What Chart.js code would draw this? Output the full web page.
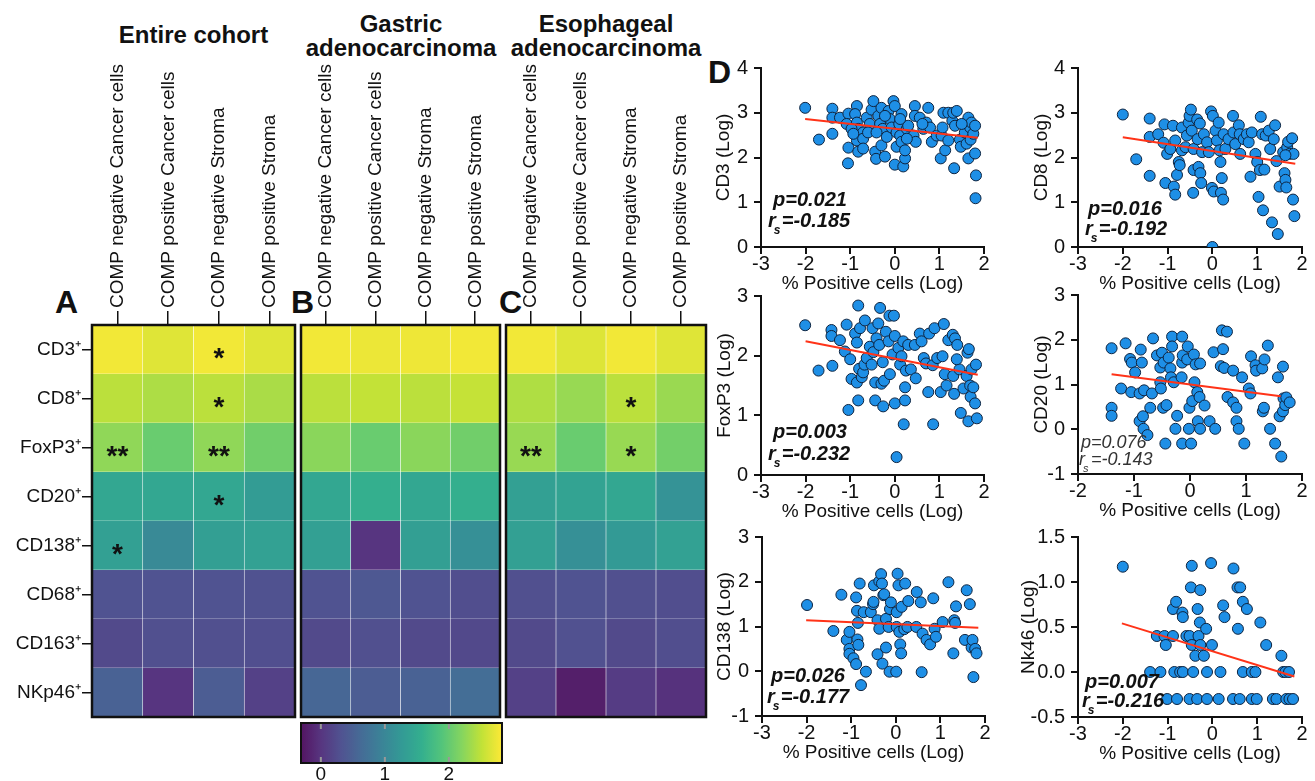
<!DOCTYPE html>
<html>
<head>
<meta charset="utf-8">
<script src="https://cdn.jsdelivr.net/npm/chart.js@4"></script>
<style>
  body { margin: 0; width: 1315px; height: 781px; background: #fff; position: relative; overflow: hidden;
         font-family: 'Liberation Sans', Arial, sans-serif; color: #111; }
  canvas { position: absolute; }
  .lbl { position: absolute; font-weight: bold; white-space: nowrap; text-align: center; }
</style>
</head>
<body>
<div class="lbl" style="left:92px;width:203px;top:23px;font-size:24px;line-height:24px">Entire cohort</div>
<div class="lbl" style="left:301px;width:200px;top:12px;font-size:24px;line-height:24px">Gastric<br>adenocarcinoma</div>
<div class="lbl" style="left:506px;width:200px;top:12px;font-size:24px;line-height:24px">Esophageal<br>adenocarcinoma</div>
<div class="lbl" style="left:55px;top:286px;font-size:32px;line-height:32px">A</div>
<div class="lbl" style="left:291px;top:286px;font-size:32px;line-height:32px">B</div>
<div class="lbl" style="left:499px;top:286px;font-size:32px;line-height:32px">C</div>
<div class="lbl" style="left:708px;top:56px;font-size:32px;line-height:32px">D</div>

<canvas id="heatA" width="300" height="690" style="left:0;top:40px"></canvas>
<canvas id="heatB" width="210" height="690" style="left:296px;top:40px"></canvas>
<canvas id="heatC" width="210" height="690" style="left:501px;top:40px"></canvas>
<canvas id="cbar" width="215" height="70" style="left:295px;top:715px"></canvas>

<canvas id="sc1" width="300" height="250" style="left:700px;top:50px"></canvas>
<canvas id="sc2" width="301" height="250" style="left:1017px;top:50px"></canvas>
<canvas id="sc3" width="300" height="250" style="left:700px;top:278px"></canvas>
<canvas id="sc4" width="301" height="250" style="left:1017px;top:277px"></canvas>
<canvas id="sc5" width="300" height="250" style="left:701px;top:519px"></canvas>
<canvas id="sc6" width="301" height="251" style="left:1017px;top:519px"></canvas>

<script>
// ---- heatmap data (log values, same scale as the colour bar) ----
const columns = ['COMP negative Cancer cells', 'COMP positive Cancer cells', 'COMP negative Stroma', 'COMP positive Stroma'];
const markers = ['CD3⁺', 'CD8⁺', 'FoxP3⁺', 'CD20⁺', 'CD138⁺', 'CD68⁺', 'CD163⁺', 'NKp46⁺'];

const entireCohort = [
  [2.77, 2.67, 2.77, 2.67],
  [2.48, 2.41, 2.48, 2.39],
  [2.26, 2.03, 2.26, 2.08],
  [1.45, 1.45, 1.45, 1.29],
  [1.35, 1.04, 1.34, 1.36],
  [0.32, 0.32, 0.32, 0.31],
  [0.22, 0.29, 0.29, 0.28],
  [0.51, 0.00, 0.44, 0.13]
];
const gastric = [
  [2.77, 2.74, 2.75, 2.77],
  [2.48, 2.52, 2.48, 2.53],
  [2.23, 2.03, 2.23, 2.08],
  [1.45, 1.57, 1.45, 1.57],
  [1.35, 0.00, 1.34, 1.13],
  [0.32, 0.38, 0.32, 0.26],
  [0.22, 0.29, 0.22, 0.21],
  [0.57, 0.44, 0.51, 0.66]
];
const esophageal = [
  [2.77, 2.66, 2.77, 2.67],
  [2.42, 2.30, 2.48, 2.31],
  [2.30, 2.03, 2.30, 2.09],
  [1.35, 1.39, 1.46, 1.17],
  [1.35, 1.12, 1.26, 1.37],
  [0.29, 0.32, 0.29, 0.27],
  [0.22, 0.30, 0.22, 0.26],
  [0.13, -0.22, 0.07, -0.03]
];
const starsEntire = [
  ['', '', '*', ''], ['', '', '*', ''], ['**', '', '**', ''], ['', '', '*', ''],
  ['*', '', '', ''], ['', '', '', ''], ['', '', '', ''], ['', '', '', '']
];
const starsGastric = markers.map(() => ['', '', '', '']);
const starsEsophageal = [
  ['', '', '', ''], ['', '', '*', ''], ['**', '', '*', ''], ['', '', '', ''],
  ['', '', '', ''], ['', '', '', ''], ['', '', '', ''], ['', '', '', '']
];
const colorTicks = [0, 1, 2];
const colorMin = -0.31, colorMax = 2.83;

// ---- scatter data [% positive cells (log), marker (log)] ----
const cd3Points = [[-2.01,3.11],[-1.70,2.40],[-1.40,3.09],[-1.40,2.89],[-1.40,2.53],[-1.23,2.89],[-1.04,2.98],[-1.08,2.75],[-1.04,2.22],[-1.05,1.87],[-0.85,3.15],[-0.89,2.97],[-0.85,2.78],[-0.82,2.64],[-0.78,2.49],[-0.85,2.38],[-0.82,2.13],[-0.71,2.56],[-0.71,2.42],[-0.63,2.89],[-0.56,2.75],[-0.52,3.07],[-0.48,3.26],[-0.44,2.13],[-0.42,1.97],[-0.37,2.93],[-0.33,2.75],[-0.30,3.11],[-0.30,2.27],[-0.27,2.64],[-0.22,2.02],[-0.18,2.46],[-0.14,3.04],[-0.11,2.86],[-0.07,2.67],[-0.03,3.26],[0.00,3.15],[0.00,1.84],[0.04,2.56],[0.04,2.24],[0.10,2.75],[0.12,2.49],[0.15,2.97],[0.15,2.35],[0.19,1.80],[0.23,1.98],[0.23,2.16],[0.27,2.64],[0.30,2.71],[0.42,2.49],[0.45,3.15],[0.45,2.93],[0.47,2.35],[0.56,2.89],[0.64,2.64],[0.71,2.78],[0.75,3.11],[0.79,2.67],[0.83,2.35],[0.94,2.49],[1.03,1.98],[1.05,2.49],[1.07,2.67],[1.09,3.00],[1.13,2.16],[1.20,2.38],[1.20,3.00],[1.29,2.82],[1.31,3.00],[1.33,1.76],[1.35,2.71],[1.39,3.04],[1.46,2.40],[1.48,2.24],[1.57,2.56],[1.61,2.31],[1.65,2.89],[1.65,1.98],[1.69,2.67],[1.70,2.40],[1.72,2.78],[1.76,2.53],[1.80,2.71],[1.80,2.09],[1.82,1.60],[1.81,1.09],[-0.97,2.64],[-0.93,2.53],[-0.71,2.20],[-0.60,2.56],[-0.41,2.56],[-0.22,2.93],[0.12,2.86],[0.27,2.42],[0.62,2.75],[1.50,2.75]];
const cd8Points = [[-2.00,2.96],[-1.70,1.96],[-1.40,2.87],[-1.40,2.46],[-1.40,1.59],[-1.21,2.52],[-1.07,2.74],[-1.09,2.33],[-1.05,1.43],[-1.01,2.08],[-0.94,2.19],[-0.88,2.71],[-0.86,1.35],[-0.83,1.17],[-0.83,2.38],[-0.79,1.61],[-0.75,1.90],[-0.73,1.83],[-0.68,2.67],[-0.68,2.16],[-0.60,2.23],[-0.57,2.49],[-0.53,2.78],[-0.51,2.93],[-0.48,3.07],[-0.46,2.60],[-0.43,1.21],[-0.42,2.19],[-0.42,1.72],[-0.34,2.85],[-0.33,2.41],[-0.31,1.79],[-0.28,2.76],[-0.27,1.65],[-0.25,1.43],[-0.23,2.12],[-0.19,2.52],[-0.12,2.34],[-0.08,2.12],[-0.03,3.03],[-0.01,1.32],[0.01,2.93],[0.03,1.24],[0.07,2.60],[0.10,2.38],[0.14,2.78],[0.16,2.16],[0.18,1.90],[0.19,1.21],[0.21,1.54],[0.24,1.06],[0.25,2.52],[0.29,2.19],[0.36,2.41],[0.46,2.93],[0.47,2.56],[0.51,2.30],[0.59,2.72],[0.61,2.52],[0.62,2.08],[0.70,2.41],[0.77,2.52],[0.81,2.34],[0.85,1.57],[0.88,2.56],[0.96,2.08],[1.00,1.90],[1.03,1.12],[1.06,1.72],[1.08,2.91],[1.11,2.52],[1.13,0.82],[1.16,1.73],[1.19,2.49],[1.26,2.60],[1.29,2.19],[1.33,0.55],[1.37,2.41],[1.40,2.72],[1.43,1.92],[1.46,0.29],[1.50,1.35],[1.58,2.12],[1.61,1.65],[1.63,1.50],[1.65,1.33],[1.67,2.23],[1.69,2.35],[1.72,2.08],[1.78,2.43],[1.80,1.06],[1.81,2.08],[1.83,0.69],[0.00,0.00],[1.63,2.05]];
const foxp3Points = [[-2.01,2.51],[-1.71,1.75],[-1.42,2.43],[-1.42,2.33],[-1.40,1.83],[-1.23,2.26],[-1.08,2.52],[-1.12,2.07],[-1.04,1.09],[-1.00,1.94],[-0.97,1.61],[-0.89,2.37],[-0.85,2.22],[-0.85,1.55],[-0.82,2.84],[-0.82,1.25],[-0.80,1.78],[-0.78,2.46],[-0.74,1.64],[-0.71,1.72],[-0.68,1.85],[-0.67,2.59],[-0.63,1.96],[-0.56,2.15],[-0.52,1.85],[-0.50,2.46],[-0.48,2.06],[-0.44,1.55],[-0.44,1.25],[-0.41,2.29],[-0.37,2.54],[-0.35,2.18],[-0.33,2.80],[-0.30,1.53],[-0.27,1.89],[-0.26,1.15],[-0.24,1.58],[-0.20,2.40],[-0.14,2.24],[-0.12,2.67],[-0.11,1.69],[-0.05,2.02],[-0.02,2.67],[0.00,2.33],[0.00,1.20],[0.04,0.30],[0.08,2.13],[0.12,1.85],[0.15,1.99],[0.19,2.24],[0.20,0.85],[0.23,1.47],[0.23,1.25],[0.25,1.75],[0.30,2.18],[0.36,1.77],[0.45,2.18],[0.47,1.62],[0.56,2.37],[0.60,2.24],[0.65,1.96],[0.70,1.87],[0.75,1.39],[0.77,2.37],[0.85,1.84],[0.86,0.85],[0.89,2.46],[0.95,1.96],[1.03,1.39],[1.07,1.99],[1.10,2.53],[1.12,1.69],[1.16,1.50],[1.20,2.26],[1.30,2.35],[1.31,1.66],[1.33,1.36],[1.35,2.29],[1.40,2.18],[1.45,1.77],[1.48,1.04],[1.54,1.45],[1.61,1.66],[1.63,2.05],[1.65,0.90],[1.66,2.11],[1.69,1.50],[1.70,1.31],[1.72,1.77],[1.76,1.47],[1.80,1.20],[1.82,1.85],[1.84,0.95],[1.39,1.94]];
const cd20Points = [[-1.40,1.81],[-1.40,0.48],[-1.40,0.30],[-1.23,0.91],[-1.15,1.92],[-1.07,1.57],[-1.05,0.83],[-1.04,1.49],[-0.98,1.27],[-0.90,0.80],[-0.90,0.18],[-0.88,1.78],[-0.86,1.49],[-0.84,0.29],[-0.83,0.01],[-0.82,0.87],[-0.76,-0.13],[-0.71,0.48],[-0.68,0.80],[-0.66,2.03],[-0.59,1.65],[-0.53,1.38],[-0.53,1.05],[-0.52,0.91],[-0.50,1.71],[-0.48,0.48],[-0.47,1.49],[-0.44,-0.32],[-0.42,0.54],[-0.38,1.60],[-0.35,1.36],[-0.34,1.16],[-0.32,2.07],[-0.32,1.85],[-0.29,1.05],[-0.23,0.30],[-0.26,0.01],[-0.15,1.16],[-0.14,1.49],[-0.14,2.07],[-0.14,-0.32],[-0.13,1.65],[-0.05,1.56],[-0.04,1.85],[-0.02,0.01],[-0.01,0.48],[0.02,-0.32],[0.04,0.63],[0.07,1.67],[0.08,1.05],[0.10,1.45],[0.13,0.83],[0.14,0.18],[0.17,0.72],[0.18,0.01],[0.18,1.47],[0.26,0.53],[0.35,0.18],[0.45,0.01],[0.42,1.72],[0.57,2.21],[0.59,1.79],[0.66,2.18],[0.55,1.41],[0.61,1.37],[0.67,0.72],[0.77,1.31],[0.77,0.60],[0.83,0.48],[0.83,0.18],[0.87,0.01],[0.93,1.16],[0.97,-0.32],[1.05,0.91],[1.08,0.80],[1.09,1.63],[1.17,1.43],[1.18,1.31],[1.29,1.36],[1.30,0.40],[1.32,0.48],[1.33,1.56],[1.39,1.87],[1.43,0.01],[1.52,-0.32],[1.57,1.16],[1.60,0.29],[1.63,-0.61],[1.66,1.40],[1.67,0.69],[1.66,0.40],[1.70,0.54],[1.72,0.71],[1.78,0.60]];
const cd138Points = [[-1.99,1.48],[-1.40,0.90],[-1.22,1.71],[-1.10,0.70],[-1.04,0.88],[-1.04,0.50],[-1.04,0.39],[-0.95,0.29],[-0.89,0.16],[-0.89,1.65],[-0.87,1.35],[-0.86,0.71],[-0.84,0.59],[-0.81,1.96],[-0.85,1.08],[-0.78,-0.31],[-0.72,1.32],[-0.67,-0.01],[-0.56,1.32],[-0.51,1.50],[-0.50,1.55],[-0.49,1.92],[-0.41,1.14],[-0.41,0.38],[-0.37,2.01],[-0.37,0.95],[-0.33,2.17],[-0.31,1.96],[-0.30,0.17],[-0.28,1.70],[-0.26,1.72],[-0.22,0.53],[-0.22,1.17],[-0.16,0.99],[-0.14,-0.01],[-0.13,1.39],[-0.11,1.54],[0.01,-0.01],[0.02,0.99],[0.02,1.32],[0.04,2.18],[0.06,1.92],[0.08,0.88],[0.10,0.60],[0.12,0.40],[0.13,1.44],[0.19,0.94],[0.21,1.96],[0.28,1.57],[0.26,0.99],[0.46,0.99],[0.47,1.77],[0.56,1.54],[0.58,-0.02],[0.60,0.84],[0.69,0.70],[0.77,0.60],[0.84,1.63],[0.87,0.95],[0.90,0.77],[1.05,1.10],[1.18,1.99],[1.29,0.40],[1.31,1.14],[1.33,1.08],[1.35,1.45],[1.55,0.70],[1.59,1.81],[1.66,1.50],[1.70,0.53],[1.72,0.70],[1.74,-0.13],[1.78,0.50],[1.81,0.40]];
const nk46Points = [[-2.00,1.17],[-1.39,0.00],[-1.24,0.40],[-1.16,0.00],[-1.07,0.40],[-1.04,0.30],[-1.01,-0.30],[-0.88,0.70],[-0.88,0.40],[-0.85,0.00],[-0.81,0.78],[-0.79,-0.30],[-0.72,0.00],[-0.67,0.66],[-0.66,0.00],[-0.66,0.61],[-0.58,0.40],[-0.51,-0.30],[-0.51,0.40],[-0.48,0.94],[-0.46,1.18],[-0.46,0.30],[-0.43,0.00],[-0.38,0.18],[-0.34,-0.30],[-0.33,0.70],[-0.31,0.40],[-0.28,0.55],[-0.27,0.30],[-0.27,0.91],[-0.19,0.18],[-0.14,0.48],[-0.12,0.00],[-0.12,-0.30],[-0.03,1.21],[-0.01,0.30],[0.14,-0.30],[0.18,0.00],[0.24,0.74],[0.27,0.61],[0.46,-0.30],[0.47,1.15],[0.56,0.94],[0.57,0.48],[0.61,-0.30],[0.62,0.94],[0.68,0.78],[0.68,0.00],[0.77,0.70],[0.88,0.00],[0.88,-0.30],[0.96,0.00],[0.99,-0.30],[1.07,0.55],[1.20,0.30],[1.35,-0.30],[1.43,-0.30],[1.54,0.18],[1.58,0.00],[1.63,0.00],[1.65,-0.30],[1.71,0.00],[1.72,-0.30],[1.80,-0.30]];

// regression lines, two ends
const cd3Fit = [[-2.01, 2.86], [1.86, 2.44]];
const cd8Fit = [[-2.00, 2.45], [1.85, 1.86]];
const foxp3Fit = [[-2.00, 2.24], [1.86, 1.68]];
const cd20Fit = [[-1.40, 1.23], [1.62, 0.74]];
const cd138Fit = [[-2.01, 1.14], [1.85, 0.97]];
const nk46Fit = [[-2.02, 0.54], [1.83, -0.05]];

// ---- colour map ----
const viridisStops = ['#440154', '#482475', '#414487', '#355f8d', '#2a788e', '#21918c', '#22a884', '#44bf70', '#7ad151', '#bddf26', '#fde725'];
function hexRgb(h) { return [1, 3, 5].map(i => parseInt(h.substr(i, 2), 16)); }
function viridis(t) {
  t = Math.max(0, Math.min(1, t));
  const f = t * 10, i = Math.min(9, Math.floor(f)), u = f - i;
  const a = hexRgb(viridisStops[i]), b = hexRgb(viridisStops[i + 1]);
  const c = a.map((v, k) => v + (b[k] - v) * u).map(v => Math.round(v + (255 - v) * 0.08));
  return `rgb(${c[0]},${c[1]},${c[2]})`;
}
const colorFor = v => viridis((v - colorMin) / (colorMax - colorMin));

Chart.defaults.font.family = "'Liberation Sans', Arial, sans-serif";
Chart.defaults.color = '#111';
Chart.defaults.animation = false;

function heatDecor(stars) {
  return {
    id: 'heatDecor',
    afterDatasetsDraw(chart) {
      const { ctx, chartArea: a, scales: { x, y } } = chart;
      ctx.save();
      ctx.fillStyle = '#111';
      ctx.font = "bold 28px 'Liberation Sans', Arial, sans-serif";
      ctx.textAlign = 'center';
      stars.forEach((row, r) => row.forEach((s, c) => {
        if (s) ctx.fillText(s, x.getPixelForValue(c), y.getPixelForValue(r + 0.5) + 17);
      }));
      ctx.lineWidth = 2.5;
      ctx.strokeStyle = '#111';
      ctx.strokeRect(a.left, a.top, a.width, a.height);
      ctx.restore();
    }
  };
}

function heatmap(id, values, stars, showRows, padLeft, padRight) {
  new Chart(document.getElementById(id), {
    type: 'bar',
    data: {
      labels: columns,
      datasets: markers.map((m, r) => ({
        label: m,
        data: columns.map(() => 1),
        backgroundColor: values[r].map(colorFor),
        borderColor: 'rgba(255,255,255,0.2)',
        borderWidth: 0.6,
        barPercentage: 1,
        categoryPercentage: 1
      }))
    },
    options: {
      responsive: false,
      layout: { autoPadding: false, padding: { left: padLeft, right: padRight, top: 0, bottom: 13 } },
      plugins: { legend: { display: false }, tooltip: { enabled: false } },
      scales: {
        x: {
          position: 'top', stacked: true,
          grid: { offset: false, drawOnChartArea: false, tickLength: 14, color: '#111', lineWidth: 1.5 },
          border: { display: false },
          ticks: { minRotation: 90, maxRotation: 90, autoSkip: false, padding: 3, labelOffset: 23, font: { size: 19 } },
          afterFit: s => { s.height = 285; }
        },
        y: {
          display: showRows, stacked: true, min: 0, max: 8, reverse: true,
          afterBuildTicks: s => { s.ticks = markers.map((m, i) => ({ value: i + 0.5 })); },
          ticks: { callback: (v, i) => markers[i], font: { size: 19 }, padding: 1 },
          grid: { drawOnChartArea: false, tickLength: 10, color: '#111', lineWidth: 1.5 },
          border: { display: false },
          afterFit: s => { s.width = showRows ? 92 : 0; }
        }
      }
    },
    plugins: [heatDecor(stars)]
  });
}

heatmap('heatA', entireCohort, starsEntire, true, 0, 5);
heatmap('heatB', gastric, starsGastric, false, 5, 6);
heatmap('heatC', esophageal, starsEsophageal, false, 5, 5);

// colour bar
new Chart(document.getElementById('cbar'), {
  type: 'scatter',
  data: { datasets: [] },
  options: {
    responsive: false,
    layout: { autoPadding: false, padding: { left: 6, right: 8, top: 8, bottom: 0 } },
    plugins: { legend: { display: false }, tooltip: { enabled: false } },
    scales: {
      x: {
        type: 'linear', min: colorMin, max: colorMax,
        afterBuildTicks: s => { s.ticks = colorTicks.map(v => ({ value: v })); },
        grid: { display: false, drawTicks: false },
        border: { display: false },
        ticks: { font: { size: 19 }, padding: 0 },
        afterFit: s => { s.height = 22; }
      },
      y: { display: false, min: 0, max: 1 }
    }
  },
  plugins: [{
    id: 'gradientBar',
    beforeDatasetsDraw(chart) {
      const { ctx, chartArea: a, scales: { x } } = chart;
      const g = ctx.createLinearGradient(a.left, 0, a.right, 0);
      for (let i = 0; i <= 20; i++) g.addColorStop(i / 20, viridis(i / 20));
      ctx.save();
      ctx.fillStyle = g;
      ctx.fillRect(a.left, a.top, a.width, a.height);
      ctx.strokeStyle = '#999';
      ctx.lineWidth = 2;
      colorTicks.forEach(v => {
        const px = x.getPixelForValue(v);
        ctx.beginPath();
        ctx.moveTo(px, a.top); ctx.lineTo(px, a.top + 6);
        ctx.moveTo(px, a.bottom - 6); ctx.lineTo(px, a.bottom);
        ctx.stroke();
      });
      ctx.lineWidth = 2;
      ctx.strokeStyle = '#111';
      ctx.strokeRect(a.left, a.top, a.width, a.height);
      ctx.restore();
    }
  }]
});

// ---- scatter panels ----
function statsText(s) {
  return {
    id: 'statsText',
    afterDatasetsDraw(chart) {
      const { ctx, chartArea: a } = chart;
      const w = s.bold ? 'bold ' : '';
      const big = `italic ${w}${s.size}px 'Liberation Sans', Arial, sans-serif`;
      const small = `italic ${w}${Math.round(s.size * 0.6)}px 'Liberation Sans', Arial, sans-serif`;
      ctx.save();
      ctx.fillStyle = s.bold ? '#111' : '#333';
      ctx.textAlign = 'left';
      ctx.textBaseline = 'alphabetic';
      ctx.font = big;
      ctx.fillText(s.p, a.left + s.px, a.bottom - s.py);
      const rx = a.left + s.rx, ry = a.bottom - s.ry;
      ctx.fillText('r', rx, ry);
      const rw = ctx.measureText('r').width;
      ctx.font = small;
      ctx.fillText('s', rx + rw - 2, ry + 7);
      ctx.font = big;
      ctx.fillText(s.r, rx + rw + 6, ry);
      ctx.restore();
    }
  };
}

function scatterPanel(id, points, fit, yTitle, xr, yr, yStep, titlePad, stats, yFmt) {
  new Chart(document.getElementById(id), {
    type: 'scatter',
    data: {
      datasets: [
        {
          data: fit.map(([x, y]) => ({ x, y })),
          showLine: true, borderColor: '#ff3318', borderWidth: 2, pointRadius: 0, order: 0
        },
        {
          data: points.map(([x, y]) => ({ x, y })),
          pointRadius: 5.5, backgroundColor: '#1e8fe6', borderColor: '#0e2440', borderWidth: 1, order: 1
        }
      ]
    },
    options: {
      responsive: false,
      layout: { autoPadding: false, padding: { left: 0, top: 14, right: 16, bottom: 0 } },
      plugins: { legend: { display: false }, tooltip: { enabled: false } },
      scales: {
        x: {
          type: 'linear', min: xr[0], max: xr[1],
          ticks: { stepSize: 1, font: { size: 20 }, padding: -2 },
          grid: { drawOnChartArea: false, tickLength: 7, color: '#111', lineWidth: 2 },
          border: { color: '#111', width: 2 },
          title: { display: true, text: '% Positive cells (Log)', font: { size: 19 }, padding: { top: 0, bottom: 5 } },
          afterFit: s => { s.height = 53; }
        },
        y: {
          type: 'linear', min: yr[0], max: yr[1],
          ticks: { stepSize: yStep, font: { size: 20 }, padding: 6, callback: yFmt || (v => v) },
          grid: { drawOnChartArea: false, tickLength: 7, color: '#111', lineWidth: 2 },
          border: { color: '#111', width: 2 },
          title: { display: true, text: yTitle, font: { size: 19 }, padding: { top: titlePad, bottom: 0 } },
          afterFit: s => { s.width = 61; }
        }
      }
    },
    plugins: [statsText(stats)]
  });
}

scatterPanel('sc1', cd3Points, cd3Fit, 'CD3 (Log)', [-3, 2], [0, 4], 1, 12,
  { p: 'p=0.021', r: '=-0.185', bold: true, size: 20, px: 12, py: 41, rx: 7, ry: 20 });
scatterPanel('sc2', cd8Points, cd8Fit, 'CD8 (Log)', [-3, 2], [0, 4], 1, 13,
  { p: 'p=0.016', r: '=-0.192', bold: true, size: 20, px: 10, py: 32, rx: 7, ry: 12 });
scatterPanel('sc3', foxp3Points, foxp3Fit, 'FoxP3 (Log)', [-3, 2], [0, 3], 1, 13,
  { p: 'p=0.003', r: '=-0.232', bold: true, size: 20, px: 12, py: 37, rx: 7, ry: 15 });
scatterPanel('sc4', cd20Points, cd20Fit, 'CD20 (Log)', [-2, 2], [-1, 3], 1, 13,
  { p: 'p=0.076', r: '=-0.143', bold: false, size: 18, px: 3, py: 26, rx: 1, ry: 9 });
scatterPanel('sc5', cd138Points, cd138Fit, 'CD138 (Log)', [-3, 2], [-1, 3], 1, 12,
  { p: 'p=0.026', r: '=-0.177', bold: true, size: 20, px: 9, py: 34, rx: 5, ry: 13 });
scatterPanel('sc6', nk46Points, nk46Fit, 'Nk46 (Log)', [-3, 2], [-0.5, 1.5], 0.5, 0,
  { p: 'p=0.007', r: '=-0.216', bold: true, size: 20, px: 7, py: 29, rx: 4, ry: 10 }, v => v.toFixed(1));
</script>
</body>
</html>
